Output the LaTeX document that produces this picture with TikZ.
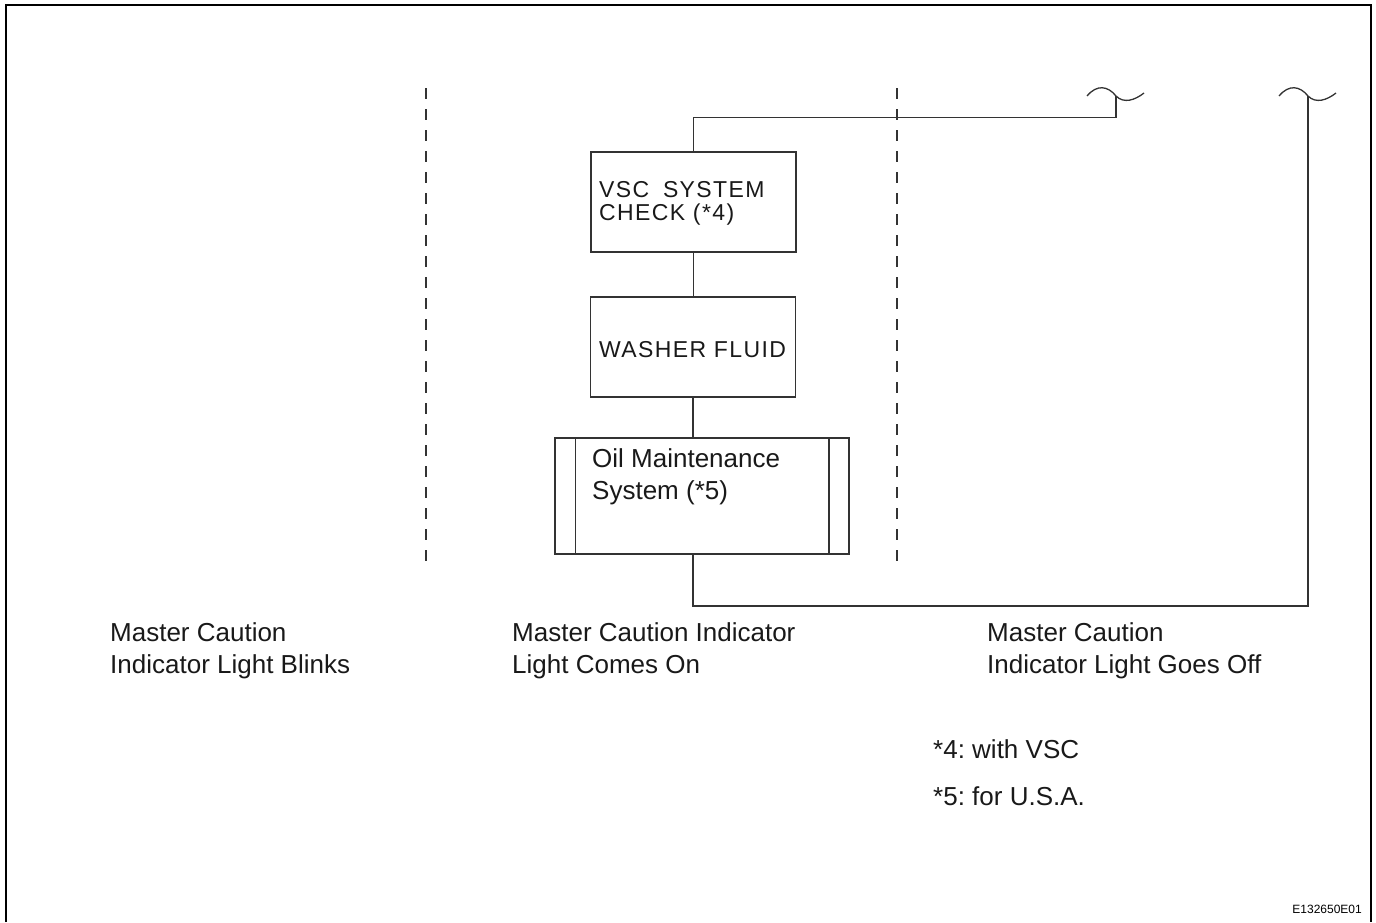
\documentclass[tikz,border=0pt]{standalone}
\usepackage{fontspec}
\setmainfont{Liberation Sans}
\newfontfamily\boxfont[LetterSpace=6]{Liberation Sans}
\frenchspacing
\begin{document}
\begin{tikzpicture}[x=1pt,y=-1pt,
  frame/.style={line width=2.2pt,black},
  sep/.style={line width=1.2pt,black!80,dash pattern=on 11pt off 10pt},
  conn/.style={line width=1.5pt,black!80},
  box/.style={draw=black!80,line width=1.5pt,rectangle,inner sep=0pt},
  lbl/.style={anchor=base west,inner sep=0pt,align=left,font=\fontsize{26}{32}\selectfont,text=black!90},
  btxt/.style={anchor=base west,inner sep=0pt,align=left,font=\boxfont\fontsize{23}{23}\selectfont,text=black!90},
  note/.style={anchor=base west,inner sep=0pt,font=\fontsize{26}{32}\selectfont,text=black!90}]
\useasboundingbox (0,0) rectangle (1376,922);
% frame
\draw[frame] (6,922) -- (6,5) -- (1371,5) -- (1371,922);
% separators
\draw[sep] (426,88) -- (426,562);
\draw[sep] (897,88) -- (897,562);
% boxes
\node[box,minimum width=205pt,minimum height=100pt] (vsc) at (693.5,202) {};
\node[box,minimum width=205pt,minimum height=100pt] (wash) at (693,347) {};
\node[box,minimum width=294pt,minimum height=116pt] (oil) at (702,496) {};
\draw[conn] ([xshift=21pt]oil.north west) -- ([xshift=21pt]oil.south west);
\draw[conn] ([xshift=-21pt]oil.north east) -- ([xshift=-21pt]oil.south east);
\node[btxt] (vsct) at (599,220) {VSC\hspace{6pt} SYSTEM\\CHECK (*4)};
\node[btxt] (washt) at (599,357) {WASHER FLUID};
\node[lbl] (oilt) at (592,499) {Oil Maintenance\\System (*5)};
% wave symbols
\coordinate (w1) at (1116,96);
\coordinate (w2) at (1308,96);
\draw[conn,line width=1.3pt] (1087,96) .. controls (1097,84) and (1108,86) .. (w1) .. controls (1124,104) and (1135,100) .. (1144,93);
\draw[conn,line width=1.3pt] (1279,96) .. controls (1289,84) and (1300,86) .. (w2) .. controls (1316,104) and (1327,100) .. (1336,93);
% connectors
\draw[conn] (vsc.south) -- (vsc.south |- wash.north);
\draw[conn] (wash.south) -- (wash.south |- oil.north);
\draw[conn] (vsc.north) -- ++(0,-34) -| (w1);
\draw[conn] (wash.south |- oil.south) -- ++(0,51) -| (w2);
% column labels
\node[lbl] (c1) at (110,673) {Master Caution\\Indicator Light Blinks};
\node[lbl] (c2) at (512,673) {Master Caution Indicator\\Light Comes On};
\node[lbl] (c3) at (987,673) {Master Caution\\Indicator Light Goes Off};
% notes
\node[note] (n4) at (933,758) {*4: with VSC};
\node[note] (n5) at (933,805) {*5: for U.S.A.};
\node[anchor=base east,inner sep=0pt,font=\fontsize{12}{14}\selectfont] (code) at (1362,913) {E132650E01};
\end{tikzpicture}
\end{document}
